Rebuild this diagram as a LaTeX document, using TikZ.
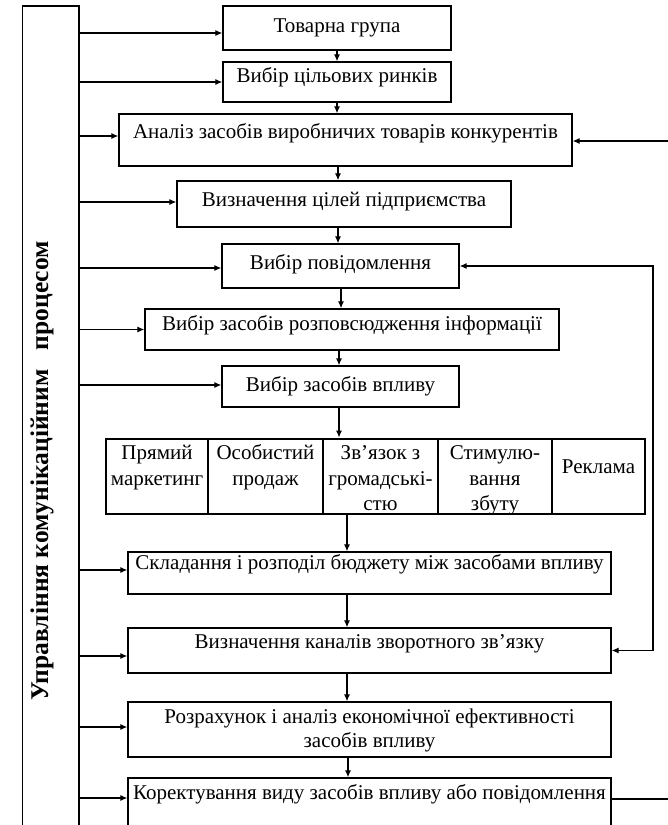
\documentclass[tikz,border=0pt]{standalone}
\usepackage{fontspec}
\setmainfont{Liberation Serif}
\usetikzlibrary{arrows.meta}

\begin{document}
\begin{tikzpicture}[x=1pt,y=-1pt,
  box/.style={draw, line width=1.3pt, inner sep=0pt},
  tbl/.style={draw, line width=2.8pt, inner sep=0pt},
  txt/.style={font=\fontsize{21}{25}\selectfont, inner sep=0pt, anchor=base},
  side/.style={font=\bfseries\fontsize{25.5}{30}\selectfont, inner sep=0pt, rotate=90},
  ln/.style={line width=1.2pt},
  arr/.style={ln, -{Latex[length=7pt,width=6pt]}},
  dbl/.style={ln, {Latex[length=7pt,width=6pt]}-{Latex[length=7pt,width=6pt]}}]
\useasboundingbox (0,0) rectangle (668,825);

% management frame on the left (runs past the lower edge)
\node[box, minimum width=56.5, minimum height=840] (mgmt) at (50.75,426) {};
\node[side] (mlabel) at (42,471) {Управління комунікаційним\hspace{0.5em} процесом};

% process steps
\node[box, minimum width=228, minimum height=44] (b1) at (337,28) {};
\node[box, minimum width=228, minimum height=40] (b2) at (337,82) {};
\node[box, minimum width=453, minimum height=52] (b3) at (345.5,140) {};
\node[box, minimum width=334, minimum height=46] (b4) at (344,204) {};
\node[box, minimum width=237, minimum height=44] (b5) at (340.5,266) {};
\node[box, minimum width=414, minimum height=41] (b6) at (352,329.5) {};
\node[box, minimum width=237, minimum height=41] (b7) at (340.5,386.5) {};
\node[box, minimum width=483, minimum height=42] (bud) at (369.5,573) {};
\node[box, minimum width=483, minimum height=45] (chan) at (369.5,650.5) {};
\node[box, minimum width=483, minimum height=55] (calc) at (369.5,729.5) {};
\node[box, minimum width=483, minimum height=67] (corr) at (369.5,811.5) {};

\node[txt] (t1) at (337,32) {Товарна група};
\node[txt] (t2) at (337,82) {Вибір цільових ринків};
\node[txt] (t3) at (345.5,138) {Аналіз засобів виробничих товарів конкурентів};
\node[txt] (t4) at (344,206) {Визначення цілей підприємства};
\node[txt] (t5) at (340.5,269) {Вибір повідомлення};
\node[txt] (t6) at (352,330) {Вибір засобів розповсюдження інформації};
\node[txt] (t7) at (340.5,391) {Вибір засобів впливу};
\node[txt] (t8) at (369.5,569) {Складання і розподіл бюджету між засобами впливу};
\node[txt] (t9) at (369.5,648) {Визначення каналів зворотного зв’язку};
\node[txt] (t10) at (369.5,723) {Розрахунок і аналіз економічної ефективності};
\node[txt] (t11) at (369.5,747) {засобів впливу};
\node[txt] (t12) at (369.5,799) {Коректування виду засобів впливу або повідомлення};

% means of influence
\node[box, minimum width=102, minimum height=75] (c1) at (157,476.5) {};
\node[box, minimum width=115, minimum height=75] (c2) at (265.5,476.5) {};
\node[box, minimum width=115, minimum height=75] (c3) at (380.5,476.5) {};
\node[box, minimum width=114, minimum height=75] (c4) at (495,476.5) {};
\node[box, minimum width=93, minimum height=75] (c5) at (598.5,476.5) {};
\node[tbl, minimum width=539, minimum height=75] (tab) at (375.5,476.5) {};

\node[txt] (c1a) at (157,459) {Прямий};
\node[txt] (c1b) at (157,485) {маркетинг};
\node[txt] (c2a) at (265.5,459) {Особистий};
\node[txt] (c2b) at (265.5,485) {продаж};
\node[txt] (c3a) at (380.5,459) {Зв’язок з};
\node[txt] (c3b) at (380.5,485) {громадські-};
\node[txt] (c3c) at (380.5,510) {стю};
\node[txt] (c4a) at (495,459) {Стимулю-};
\node[txt] (c4b) at (495,485) {вання};
\node[txt] (c4c) at (495,510) {збуту};
\node[txt] (c5a) at (598.5,473) {Реклама};

% inputs from the management frame
\foreach \b/\dy/\n in {b1/-5/1, b2/0/2, b3/4/3, b4/2/4, b5/-2/5, b6/0/6, b7/1.5/7,
                       bud/3/8, chan/-5.5/9, calc/2.5/10, corr/13.5/11}{
  \coordinate (in\n) at ([yshift=\dy pt]\b.west);
  \draw[arr] (mgmt.east |- in\n) -- (in\n);
}

% flow down the chain
\foreach \a/\b/\dx/\n in {b1/b2/0/1, b2/b3/0/2, b3/b4/-7.5/3, b4/b5/-6/4, b5/b6/0.5/5,
                          b6/b7/-13/6, b7/tab/-1.5/7, tab/bud/-28.5/8, bud/chan/-22.5/9,
                          chan/calc/-22.5/10, calc/corr/-21.5/11}{
  \coordinate (v\n) at ([xshift=\dx pt]\a.south);
  \draw[arr] (v\n) -- (v\n |- \b.north);
}

% feedback on the right
\coordinate (rin) at (668,141);
\draw[arr] (rin) -- (rin -| b3.east);
\coordinate (fb) at (653,0);
\draw[dbl] (b5.east) -- (b5.east -| fb) -- (chan.east -| fb) -- (chan.east);
\coordinate (rout) at (668,799);
\draw[ln] (corr.east |- rout) -- (rout);
\end{tikzpicture}
\end{document}
